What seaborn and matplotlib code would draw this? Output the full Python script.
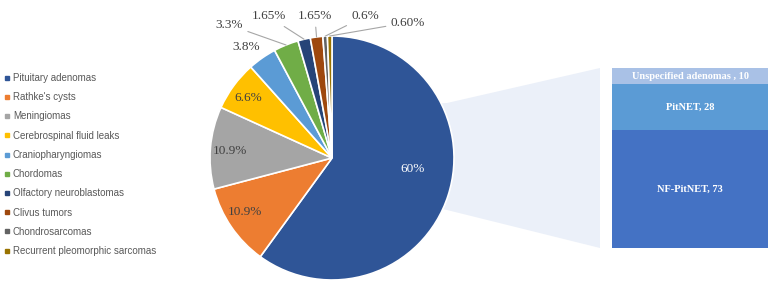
import numpy as np
import matplotlib
matplotlib.use("Agg")
import matplotlib.pyplot as plt
import seaborn as sns
from matplotlib.lines import Line2D
from matplotlib.patches import Polygon

# Pie data
categories = [
    "Pituitary adenomas", "Rathke's cysts", "Meningiomas", "Cerebrospinal fluid leaks",
    "Craniopharyngiomas", "Chordomas", "Olfactory neuroblastomas", "Clivus tumors",
    "Chondrosarcomas", "Recurrent pleomorphic sarcomas",
]
shares = [60, 10.9, 10.9, 6.6, 3.8, 3.3, 1.65, 1.65, 0.6, 0.6]
share_labels = ["60%", "10.9%", "10.9%", "6.6%", "3.8%", "3.3%", "1.65%", "1.65%", "0.6%", "0.60%"]
pie_colors = ["#2f5597", "#ed7d31", "#a5a5a5", "#ffc000", "#5b9bd5",
              "#70ad47", "#264478", "#9e480e", "#636363", "#997300"]

# Breakdown of pituitary adenomas (bar of pie)
sub_types = ["NF-PitNET", "PitNET", "Unspecified adenomas "]
sub_counts = [73, 28, 10]
sub_colors = ["#4472c4", "#5b9bd5", "#a9c1e6"]

# label placement (pie radius units) and whether a leader line is drawn
label_pos = [(0.66, -0.09), (-0.71, -0.44), (-0.84, 0.06), (-0.69, 0.49), (-0.70, 0.91),
             (-0.84, 1.09), (-0.52, 1.16), (-0.14, 1.16), (0.27, 1.16), (0.62, 1.11)]
has_leader = [False] * 5 + [True] * 5

sns.set_style("white")
W, H = 775, 289
fig = plt.figure(figsize=(W / 100, H / 100), dpi=100)

# connector band between pie and bar
bg = fig.add_axes([0, 0, 1, 1], zorder=0)
bg.set_xlim(0, W)
bg.set_ylim(H, 0)
bg.axis("off")
bg.add_patch(Polygon([(400, 105), (447, 103), (600, 68), (600, 248), (447, 210), (400, 200)],
                     closed=True, facecolor="#ebf0f9", edgecolor="none"))

# pie
cx, cy, r = 332, 158, 122
ax = fig.add_axes([(cx - r) / W, (H - cy - r) / H, 2 * r / W, 2 * r / H], zorder=2)
wedges, _ = ax.pie(shares, colors=pie_colors, startangle=90, counterclock=False,
                   wedgeprops=dict(edgecolor="white", linewidth=1.2))
ax.set_xlim(-1, 1)
ax.set_ylim(-1, 1)
ax.set_aspect("equal")
ax.axis("off")

for i, (w, lab) in enumerate(zip(wedges, share_labels)):
    mid = np.deg2rad((w.theta1 + w.theta2) / 2)
    color = "white" if i == 0 else "#404040"
    if has_leader[i]:
        ax.annotate(lab, xy=(np.cos(mid), np.sin(mid)), xytext=label_pos[i],
                    ha="center", va="center", fontsize=9.5, family="Liberation Serif",
                    color=color, annotation_clip=False,
                    arrowprops=dict(arrowstyle="-", color="#a6a6a6", lw=0.8,
                                    shrinkA=1, shrinkB=0))
    else:
        ax.text(*label_pos[i], lab, ha="center", va="center", fontsize=9.5,
                family="Liberation Serif", color=color)

# stacked bar
bx = fig.add_axes([612 / W, (H - 248) / H, 156 / W, 180 / H], zorder=2)
cum = np.cumsum(sub_counts)
for total, col in zip(cum[::-1], sub_colors[::-1]):
    sns.barplot(x=[0], y=[total], color=col, width=1, ax=bx, saturation=1,
                edgecolor="none")
bx.set_xlim(-0.5, 0.5)
bx.set_ylim(0, cum[-1])
bx.axis("off")
bottoms = cum - np.array(sub_counts)
for name, n, b in zip(sub_types, sub_counts, bottoms):
    bx.text(0, b + n / 2, f"{name}, {n}", ha="center", va="center", color="white",
            fontsize=7.5, fontweight="bold", family="Liberation Serif")

# legend
handles = [Line2D([], [], marker="s", linestyle="none", markersize=3.5,
                  markerfacecolor=c, markeredgecolor=c) for c in pie_colors]
fig.legend(handles, categories, loc="upper left", bbox_to_anchor=(5 / W, 1 - 73 / H),
           frameon=False, handlelength=0.5, handletextpad=0.3, labelspacing=0.95,
           borderpad=0, borderaxespad=0,
           prop={"family": "Liberation Sans", "size": 7}, labelcolor="#595959")

fig.savefig("out.png", dpi=100)
